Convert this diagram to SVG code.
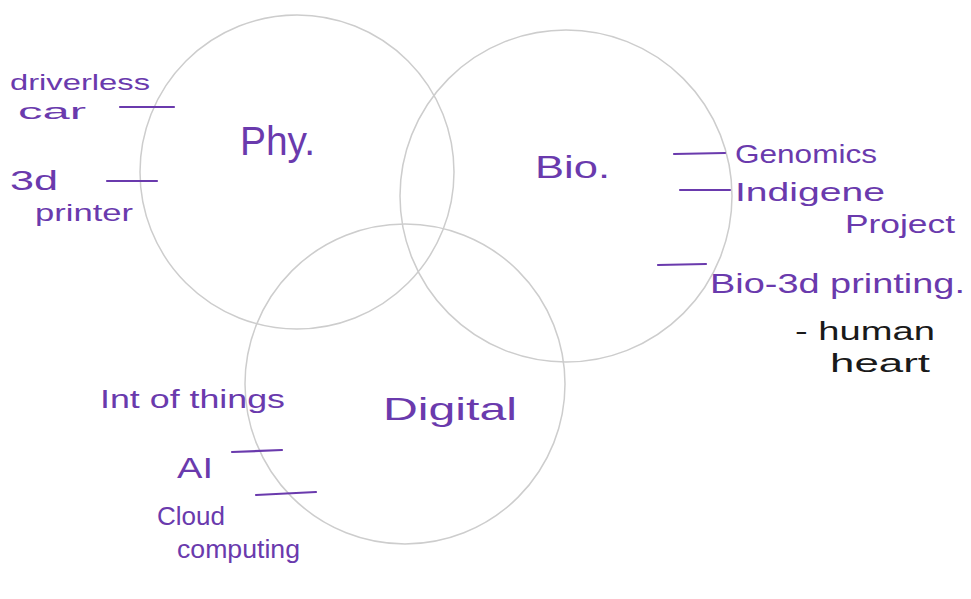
<svg xmlns="http://www.w3.org/2000/svg" width="971" height="599" viewBox="0 0 971 599">
<style>
.circ{fill:none;stroke:#cdcdcd;stroke-width:1.5}
.t{font-family:"Liberation Sans","DejaVu Sans",sans-serif;fill:#6a3aad}
.k{font-family:"Liberation Sans","DejaVu Sans",sans-serif;fill:#1a1a1a}
.tick{stroke:#6a3aad;stroke-width:2.2;stroke-linecap:round;fill:none}
</style>
<rect width="971" height="599" fill="#ffffff"/>
<g id="physical">
<circle class="circ" cx="297" cy="172" r="157"/>
<text class="t" x="240" y="155" font-size="40" textLength="75" lengthAdjust="spacingAndGlyphs">Phy.</text>
</g>
<g id="bio">
<circle class="circ" cx="566" cy="196" r="166"/>
<text class="t" x="535" y="178" font-size="32" textLength="75" lengthAdjust="spacingAndGlyphs">Bio.</text>
</g>
<g id="digital">
<circle class="circ" cx="405" cy="384" r="160"/>
<text class="t" x="383" y="420" font-size="32" textLength="134" lengthAdjust="spacingAndGlyphs">Digital</text>
</g>
<g id="driverless-car">
<text class="t" x="10" y="90" font-size="22" textLength="140" lengthAdjust="spacingAndGlyphs">driverless</text>
<text class="t" x="18" y="119" font-size="22" textLength="68" lengthAdjust="spacingAndGlyphs">car</text>
</g>
<g id="3d-printer">
<text class="t" x="10" y="190" font-size="28" textLength="48" lengthAdjust="spacingAndGlyphs">3d</text>
<text class="t" x="35" y="221" font-size="24" textLength="98" lengthAdjust="spacingAndGlyphs">printer</text>
</g>
<g id="genomics">
<text class="t" x="735" y="163" font-size="26" textLength="142" lengthAdjust="spacingAndGlyphs">Genomics</text>
</g>
<g id="indigene-project">
<text class="t" x="735" y="201" font-size="26" textLength="150" lengthAdjust="spacingAndGlyphs">Indigene</text>
<text class="t" x="845" y="233" font-size="26" textLength="110" lengthAdjust="spacingAndGlyphs">Project</text>
</g>
<g id="bio-3d-printing">
<text class="t" x="710" y="293" font-size="28" textLength="255" lengthAdjust="spacingAndGlyphs">Bio-3d printing.</text>
</g>
<g id="human-heart">
<text class="k" x="795" y="340" font-size="26" textLength="140" lengthAdjust="spacingAndGlyphs">- human</text>
<text class="k" x="830" y="372" font-size="26" textLength="100" lengthAdjust="spacingAndGlyphs">heart</text>
</g>
<g id="internet-of-things">
<text class="t" x="100" y="408" font-size="26" textLength="185" lengthAdjust="spacingAndGlyphs">Int of things</text>
</g>
<g id="ai">
<text class="t" x="177" y="478" font-size="30" textLength="36" lengthAdjust="spacingAndGlyphs">AI</text>
</g>
<g id="cloud-computing">
<text class="t" x="157" y="525" font-size="26" textLength="68" lengthAdjust="spacingAndGlyphs">Cloud</text>
<text class="t" x="177" y="558" font-size="26" textLength="123" lengthAdjust="spacingAndGlyphs">computing</text>
</g>
<g id="connectors">
<line class="tick" x1="120" y1="107" x2="174" y2="107"/>
<line class="tick" x1="107" y1="181" x2="157" y2="181"/>
<line class="tick" x1="674" y1="154" x2="725" y2="153"/>
<line class="tick" x1="680" y1="190" x2="730" y2="190"/>
<line class="tick" x1="658" y1="265" x2="706" y2="264"/>
<line class="tick" x1="232" y1="452" x2="282" y2="450"/>
<line class="tick" x1="256" y1="495" x2="316" y2="492"/>
</g>
</svg>
